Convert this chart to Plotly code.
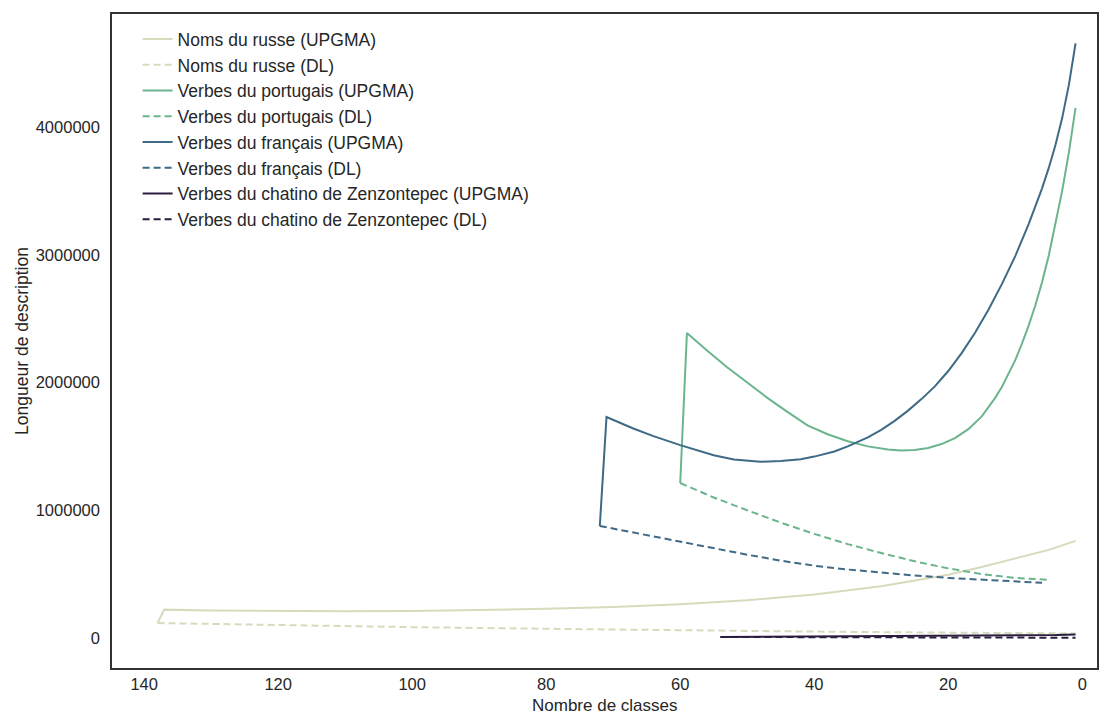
import plotly.graph_objects as go

# Noms du russe
russe_x = [138, 137, 130, 120, 110, 100, 90, 80, 70, 60, 50, 40, 30, 20, 15, 10, 5, 1]
russe_upgma = [117000, 222000, 216000, 211000, 209000, 212000, 218000, 228000, 243000, 265000,
               295000, 340000, 405000, 495000, 555000, 620000, 690000, 760000]
russe_dl_x = [138, 120, 100, 80, 60, 40, 20, 10, 1]
russe_dl = [117000, 100000, 85000, 72000, 60000, 50000, 42000, 38000, 35000]

# Verbes du portugais
port_x = [60, 59, 56, 53, 50, 47, 44, 41, 38, 35, 32, 29, 27, 25, 23, 21, 19, 17, 15, 13, 12, 11,
          10, 9, 8, 7, 6, 5, 4, 3, 2, 1]
port_upgma = [1213000, 2387000, 2250000, 2120000, 2000000, 1880000, 1770000, 1665000, 1595000,
              1540000, 1500000, 1475000, 1468000, 1472000, 1488000, 1518000, 1565000, 1635000,
              1735000, 1880000, 1965000, 2065000, 2175000, 2305000, 2445000, 2605000, 2785000,
              2995000, 3235000, 3500000, 3800000, 4150000]
port_dl_x = [60, 55, 50, 45, 40, 35, 30, 25, 20, 15, 10, 5]
port_dl = [1213000, 1100000, 1000000, 903000, 815000, 735000, 665000, 600000, 545000, 500000,
           470000, 455000]

# Verbes du français
fr_x = [72, 71, 67, 64, 60, 57, 55, 52, 48, 45, 42, 40, 37, 35, 32, 30, 28, 26, 24, 22, 20, 18,
        16, 14, 12, 10, 8, 6, 5, 4, 3, 2, 1]
fr_upgma = [877000, 1730000, 1640000, 1580000, 1510000, 1465000, 1430000, 1398000, 1380000,
            1385000, 1400000, 1420000, 1460000, 1500000, 1570000, 1630000, 1700000, 1780000,
            1870000, 1970000, 2090000, 2230000, 2390000, 2570000, 2770000, 2990000, 3240000,
            3520000, 3680000, 3860000, 4070000, 4330000, 4655000]
fr_dl_x = [72, 65, 60, 55, 50, 45, 40, 35, 30, 25, 20, 15, 10, 6]
fr_dl = [877000, 805000, 752000, 702000, 652000, 605000, 566000, 536000, 510000, 489000,
         470000, 455000, 440000, 432000]

# Verbes du chatino de Zenzontepec
chat_x = [54, 45, 35, 25, 15, 8, 4, 1]
chat_upgma = [8000, 10000, 12000, 14000, 17000, 20000, 23000, 28000]
chat_dl = [8000, 7000, 6000, 5000, 4000, 3000, 2500, 2000]

col_russe = '#d6dbbb'
col_port = '#6cb48d'
col_fr = '#3e6a86'
col_chat = '#2b1d3e'

series = [
    ('Noms du russe (UPGMA)', russe_x, russe_upgma, col_russe, 'solid'),
    ('Noms du russe (DL)', russe_dl_x, russe_dl, col_russe, '7px,4px'),
    ('Verbes du portugais (UPGMA)', port_x, port_upgma, col_port, 'solid'),
    ('Verbes du portugais (DL)', port_dl_x, port_dl, col_port, '7px,4px'),
    ('Verbes du français (UPGMA)', fr_x, fr_upgma, col_fr, 'solid'),
    ('Verbes du français (DL)', fr_dl_x, fr_dl, col_fr, '7px,4px'),
    ('Verbes du chatino de Zenzontepec (UPGMA)', chat_x, chat_upgma, col_chat, 'solid'),
    ('Verbes du chatino de Zenzontepec (DL)', chat_x, chat_dl, col_chat, '7px,4px'),
]

fig = go.Figure()
for name, xs, ys, col, dash in series:
    fig.add_trace(go.Scatter(x=xs, y=ys, mode='lines', name=name,
                             line=dict(color=col, width=2, dash=dash)))

axis_font = dict(family='Liberation Sans, Arial, sans-serif', size=16.5, color='#262626')
fig.update_layout(
    width=1108, height=716,
    margin=dict(l=112, r=11, t=14, b=48, autoexpand=False),
    plot_bgcolor='white', paper_bgcolor='white',
    font=dict(family='Liberation Sans, Arial, sans-serif', color='#262626'),
    legend=dict(x=0.026, y=0.989, xanchor='left', yanchor='top', bgcolor='rgba(0,0,0,0)',
                font=dict(size=17.5, color='#262626')),
    xaxis=dict(range=[144.8, -2.2], tickvals=[140, 120, 100, 80, 60, 40, 20, 0],
               showgrid=False, zeroline=False, showline=True, mirror=True, automargin=False,
               linecolor='#333333', linewidth=1.5, ticks='', ticklabelstandoff=0,
               tickfont=axis_font),
    yaxis=dict(range=[-235000, 4885000], tickvals=[0, 1000000, 2000000, 3000000, 4000000],
               tickformat='d', showgrid=False, zeroline=False, showline=True, mirror=True,
               linecolor='#333333', linewidth=1.5, ticks='', ticklabelstandoff=7,
               tickfont=axis_font, automargin=False,
               title=dict(text='Longueur de description', font=dict(size=17.5, color='#262626'), standoff=3)),
)
fig.add_annotation(text='Nombre de classes', xref='paper', yref='paper', x=0.5, y=0,
                   xanchor='center', yanchor='top', yshift=-26, showarrow=False,
                   font=dict(size=17, color='#262626'))

fig.write_html("out.html", config={'displayModeBar': False},
               post_script="document.body.style.margin='0';")
